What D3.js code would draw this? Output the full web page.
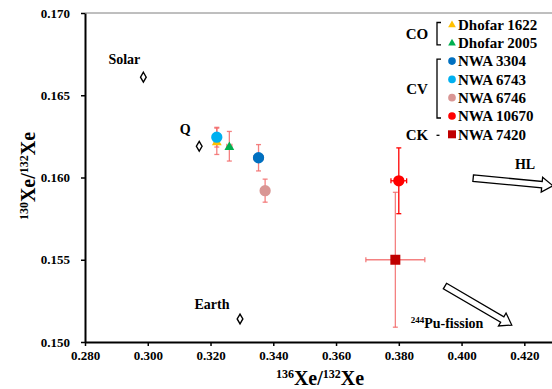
<!DOCTYPE html>
<html>
<head>
<meta charset="utf-8">
<script src="https://cdn.jsdelivr.net/npm/d3@7"></script>
<style>
  body { margin: 0; background: #fff; }
  svg text { font-family: 'Liberation Serif', 'Times New Roman', Times, serif; font-weight: 700; }
</style>
</head>
<body>
<div id="chart"></div>
<script>
const width = 552;
const height = 389;
const FONT = "'Liberation Serif', 'Times New Roman', Times, serif";

// sample names, shapes and colours
const sampleNames = ['Dhofar 1622', 'Dhofar 2005', 'NWA 3304', 'NWA 6743', 'NWA 6746', 'NWA 10670', 'NWA 7420'];
const sampleShapes = ['triangle', 'triangle', 'circle', 'circle', 'circle', 'circle', 'square'];
const sampleColors = ['#ffc000', '#00b050', '#0070c0', '#00b0f0', '#d99694', '#ff0000', '#c00000'];
const errorColors = ['#f26b6b', '#f26b6b', '#f26b6b', '#f26b6b', '#f26b6b', '#ff0000', '#f26b6b'];

// 136Xe/132Xe, 130Xe/132Xe and errors
const xe136 = [0.3220, 0.3260, 0.3353, 0.3220, 0.3374, 0.3800, 0.3789];
const xe136Err = [0.0008, 0.0008, 0.0015, 0.0008, 0.0008, 0.0025, 0.0094];
const xe130 = [0.1622, 0.1619, 0.1612, 0.16245, 0.1592, 0.1598, 0.1550];
const xe130Err = [0.0008, 0.0009, 0.0008, 0.0006, 0.0007, 0.0020, 0.0041];

// reference components
const refNames = ['Solar', 'Q', 'Earth'];
const refX = [0.2986, 0.3164, 0.3294];
const refY = [0.1661, 0.1619, 0.1514];

// groups in the legend
const groupNames = ['CO', 'CV', 'CK'];
const groupStart = [0, 2, 6];
const groupEnd = [1, 5, 6];

const xTicks = [0.28, 0.30, 0.32, 0.34, 0.36, 0.38, 0.40, 0.42];
const yTicks = [0.150, 0.155, 0.160, 0.165, 0.170];

const margin = { top: 13, left: 85, bottom: 47 };

const x = d3.scaleLinear().domain([0.28, 0.44]).range([margin.left, margin.left + 8 * 62.76]);
const y = d3.scaleLinear().domain([0.150, 0.170]).range([height - margin.bottom, margin.top]);

const svg = d3.select('#chart')
    .append('svg')
    .attr('width', width)
    .attr('height', height)
    .attr('font-family', FONT)
    .attr('font-weight', 'bold');

svg.append('rect').attr('width', width).attr('height', height).attr('fill', '#fff');

// top frame line
svg.append('line')
    .attr('x1', x(0.28)).attr('x2', width)
    .attr('y1', y(0.170)).attr('y2', y(0.170))
    .attr('stroke', '#7f7f7f')
    .attr('stroke-width', 1);

// axes
const xAxis = svg.append('g')
    .attr('transform', `translate(0,${y(0.150)})`)
    .call(d3.axisBottom(x).tickValues(xTicks).tickFormat(d3.format('.3f')).tickSizeInner(4).tickSizeOuter(0).tickPadding(5));

const yAxis = svg.append('g')
    .attr('transform', `translate(${x(0.28)},0)`)
    .call(d3.axisLeft(y).tickValues(yTicks).tickFormat(d3.format('.3f')).tickSizeInner(4).tickSizeOuter(0).tickPadding(11));

[xAxis, yAxis].forEach(a => {
    a.attr('font-family', FONT).attr('font-size', 13);
    a.select('.domain').attr('stroke', '#000').attr('stroke-width', 2);
    a.selectAll('.tick line').attr('stroke', '#000').attr('stroke-width', 1.5);
    a.selectAll('.tick text')
        .attr('fill', '#000')
        .style('font-size', '13px');
});

// axis titles
const xTitle = svg.append('text')
    .attr('x', 320)
    .attr('y', 385)
    .attr('text-anchor', 'middle')
    .style('font-size', '20px');
xTitle.append('tspan').style('font-size', '12px').attr('baseline-shift', '55%').text('136');
xTitle.append('tspan').text('Xe/');
xTitle.append('tspan').style('font-size', '12px').attr('baseline-shift', '55%').text('132');
xTitle.append('tspan').text('Xe');

const yTitle = svg.append('text')
    .attr('transform', 'translate(35,176) rotate(-90)')
    .attr('text-anchor', 'middle')
    .style('font-size', '20px');
yTitle.append('tspan').style('font-size', '12px').attr('baseline-shift', '55%').text('130');
yTitle.append('tspan').text('Xe/');
yTitle.append('tspan').style('font-size', '12px').attr('baseline-shift', '55%').text('132');
yTitle.append('tspan').text('Xe');

// arrows (hollow block arrows), in data coordinates
const arrowStart = [[0.4037, 0.15996], [0.3947, 0.1534]];
const arrowEnd = [[0.4291, 0.15950], [0.4160, 0.15103]];

arrowStart.forEach((s, i) => {
    const x0 = x(s[0]), y0 = y(s[1]);
    const x1 = x(arrowEnd[i][0]), y1 = y(arrowEnd[i][1]);
    const len = Math.hypot(x1 - x0, y1 - y0);
    const ang = Math.atan2(y1 - y0, x1 - x0) * 180 / Math.PI;
    const bw = 3.2, hw = 7.5, hl = 11;
    const pts = [[0, -bw], [len - hl, -bw], [len - hl, -hw], [len, 0], [len - hl, hw], [len - hl, bw], [0, bw]];
    svg.append('polygon')
        .attr('points', pts.map(p => p.join(',')).join(' '))
        .attr('transform', `translate(${x0},${y0}) rotate(${ang})`)
        .attr('fill', '#fff')
        .attr('stroke', '#000')
        .attr('stroke-width', 1.3);
});

svg.append('text').attr('x', 525).attr('y', 169).attr('text-anchor', 'middle').style('font-size', '14px').text('HL');

const puLabel = svg.append('text').attr('x', 447).attr('y', 328).attr('text-anchor', 'middle').style('font-size', '14px');
puLabel.append('tspan').style('font-size', '9px').attr('baseline-shift', '55%').text('244');
puLabel.append('tspan').text('Pu-fission');

// reference points
refNames.forEach((name, i) => {
    svg.append('path')
        .attr('d', d3.symbol(d3.symbolDiamond, 28)())
        .attr('transform', `translate(${x(refX[i])},${y(refY[i])})`)
        .attr('fill', '#fff')
        .attr('stroke', '#000')
        .attr('stroke-width', 1.4);
});
const refLabelDx = [-19, -14, -28];
const refLabelDy = [-13, -12, -10];
refNames.forEach((name, i) => {
    svg.append('text')
        .attr('x', x(refX[i]) + refLabelDx[i])
        .attr('y', y(refY[i]) + refLabelDy[i])
        .attr('text-anchor', 'middle')
        .style('font-size', '14px')
        .text(name);
});

// error bars
const cap = 2.5;
sampleNames.forEach((name, i) => {
    const g = svg.append('g').attr('stroke', errorColors[i]).attr('stroke-width', 1.3)
        .attr('stroke-opacity', errorColors[i] === '#ff0000' ? 1 : 0.85);
    const cx = x(xe136[i]), cy = y(xe130[i]);
    const xl = x(xe136[i] - xe136Err[i]), xr = x(xe136[i] + xe136Err[i]);
    const yt = y(xe130[i] + xe130Err[i]), yb = y(xe130[i] - xe130Err[i]);
    g.append('line').attr('x1', cx).attr('x2', cx).attr('y1', yt).attr('y2', yb);
    g.append('line').attr('x1', cx - cap).attr('x2', cx + cap).attr('y1', yt).attr('y2', yt);
    g.append('line').attr('x1', cx - cap).attr('x2', cx + cap).attr('y1', yb).attr('y2', yb);
    g.append('line').attr('x1', xl).attr('x2', xr).attr('y1', cy).attr('y2', cy);
    g.append('line').attr('x1', xl).attr('x2', xl).attr('y1', cy - cap).attr('y2', cy + cap);
    g.append('line').attr('x1', xr).attr('x2', xr).attr('y1', cy - cap).attr('y2', cy + cap);
});

// markers
function symbolFor(shape, big) {
    if (shape === 'triangle') return d3.symbol(d3.symbolTriangle, big ? 42 : 26)();
    if (shape === 'square') return d3.symbol(d3.symbolSquare, big ? 100 : 64)();
    return d3.symbol(d3.symbolCircle, big ? 100 : 46)();
}

sampleNames.forEach((name, i) => {
    svg.append('path')
        .attr('d', symbolFor(sampleShapes[i], true))
        .attr('transform', `translate(${x(xe136[i])},${y(xe130[i]) + (sampleShapes[i] === 'triangle' ? 1 : 0)})`)
        .attr('fill', sampleColors[i]);
});

// legend
const legendX = 452;
const legendY0 = 24.5;
const legendStep = 18.3;

sampleNames.forEach((name, i) => {
    const ly = legendY0 + i * legendStep;
    svg.append('path')
        .attr('d', symbolFor(sampleShapes[i], false))
        .attr('transform', `translate(${legendX},${ly + (sampleShapes[i] === 'triangle' ? 0.5 : 0)})`)
        .attr('fill', sampleColors[i]);
    svg.append('text')
        .attr('x', legendX + 6)
        .attr('y', ly)
        .attr('dy', '0.35em')
        .style('font-size', '15px')
        .text(name);
});

groupNames.forEach((g, i) => {
    const y0 = legendY0 + groupStart[i] * legendStep;
    const y1 = legendY0 + groupEnd[i] * legendStep;
    svg.append('text')
        .attr('x', 417)
        .attr('y', (y0 + y1) / 2)
        .attr('dy', '0.35em')
        .attr('text-anchor', 'middle')
        .style('font-size', '15px')
        .text(g);
    if (groupStart[i] === groupEnd[i]) {
        svg.append('line')
            .attr('x1', 436.5).attr('x2', 439.5)
            .attr('y1', y0 + 1).attr('y2', y0 + 1)
            .attr('stroke', '#000').attr('stroke-width', 1.3);
    } else {
        svg.append('path')
            .attr('d', `M441,${y0 - 2} H437 V${y1 + 2} H441`)
            .attr('fill', 'none')
            .attr('stroke', '#000')
            .attr('stroke-width', 1.3);
    }
});
</script>
</body>
</html>
